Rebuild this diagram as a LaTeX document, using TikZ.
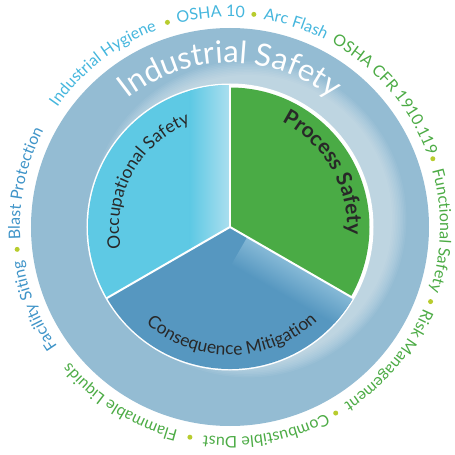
\documentclass[tikz,border=0pt]{standalone}
\usepackage{fontspec}
\setmainfont{Lato}
\usetikzlibrary{decorations.text}
\definecolor{ringblue}{RGB}{148,188,211}
\definecolor{occblue}{RGB}{94,201,228}
\definecolor{occlight}{RGB}{172,223,239}
\definecolor{conblue}{RGB}{86,151,192}
\definecolor{conlight}{RGB}{135,186,215}
\definecolor{procgreen}{RGB}{74,171,69}
\definecolor{labelcyan}{RGB}{69,182,221}
\definecolor{labelblue}{RGB}{63,148,200}
\definecolor{labelgreen}{RGB}{76,171,69}
\definecolor{dotgreen}{RGB}{184,204,46}
\definecolor{piedark}{RGB}{40,40,40}

\newcommand{\outerfont}{\fontsize{16}{19}\selectfont}
\newcommand{\piefont}{\fontsize{17.5}{21}\selectfont\color{piedark}}
\newcommand{\ringfont}{\fontsize{31}{37}\selectfont\color{white}}

\tikzset{
  arclabel/.style={decorate, decoration={text along path, text align=center}},
  divider/.style={white, line width=2pt},
  sepdot/.style={fill=dotgreen},
  glowlayer/.style={fill=white, opacity=0.055}
}

\begin{document}
\begin{tikzpicture}[x=1pt,y=1pt]
  \useasboundingbox (-230,-228) rectangle (225,227);

  % outer ring with a soft glow on the right
  \fill[ringblue] (0,0) circle[radius=199pt];
  \begin{scope}
    \clip (0,0) circle[radius=199pt];
    \foreach \r in {144,145.6,...,160}
      \fill[glowlayer] (18,8) circle[radius=\r pt];
  \end{scope}
  \fill[white] (0,0) circle[radius=143.5pt];

  % occupational safety
  \begin{scope}
    \clip (0,0) -- (90:142) arc[start angle=90, end angle=210, radius=142pt] -- cycle;
    \fill[occblue] (-145,-145) rectangle (0,145);
    \shade[left color=occblue, right color=occlight] (-40,-145) rectangle (0,145);
  \end{scope}

  % consequence mitigation
  \begin{scope}
    \clip (0,0) -- (210:142) arc[start angle=210, end angle=330, radius=142pt] -- cycle;
    \fill[conblue] (-145,-145) rectangle (145,0);
    \begin{scope}[transform canvas={rotate=-30}]
      \shade[top color=conlight, bottom color=conblue] (20,-32) rectangle (145,0);
    \end{scope}
  \end{scope}

  % process safety
  \fill[procgreen] (0,0) -- (90:139.5) arc[start angle=90, end angle=-30, radius=139.5pt] -- cycle;

  \foreach \ang in {90,210,330}
    \draw[divider] (0,0) -- (\ang:143);

  \path[arclabel, decoration={text={|\ringfont|Industrial Safety}}]
    (140:164) arc[start angle=140, end angle=40, radius=164pt];
  \path[arclabel, decoration={text={|\piefont|Occupational Safety}}]
    (201:111) arc[start angle=201, end angle=101, radius=111pt];
  \path[arclabel, decoration={text={|\fontsize{21}{25}\selectfont\bfseries\color{piedark}|Process Safety}}]
    (80:117) arc[start angle=80, end angle=-20, radius=117pt];
  \path[arclabel, decoration={text={|\piefont|Consequence Mitigation}}]
    (221:128) arc[start angle=221, end angle=321, radius=128pt];

  % outer labels
  \foreach \ang/\col/\lbl in {-158/labelblue/Facility Siting, 168/labelblue/Blast Protection,
      127.8/labelcyan/Industrial Hygiene, 95.2/labelcyan/OSHA 10, 72/labelcyan/Arc Flash,
      40.5/labelgreen/OSHA CFR 1910.119, -1/labelgreen/Functional Safety,
      -40/labelgreen/Risk Management, -80/labelgreen/Combustible Dust,
      -122/labelgreen/Flammable Liquids}
    \path[arclabel, decoration={text/.expanded={|\noexpand\outerfont\noexpand\color{\col}|\lbl}}]
      ({\ang+45}:210) arc[start angle=\ang+45, end angle=\ang-45, radius=210pt];

  \foreach \ang in {-174,107,83.6,18.6,-20.4,-60.4,-100.8}
    \fill[sepdot] (\ang:214) circle[radius=2.5pt];
\end{tikzpicture}
\end{document}
